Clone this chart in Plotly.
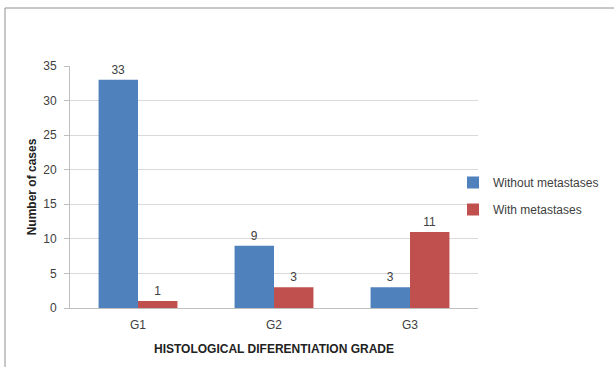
import plotly.graph_objects as go

categories = ["G1", "G2", "G3"]
without_met = [33, 9, 3]
with_met = [1, 3, 11]
series_names = ["Without metastases", "With metastases"]
y_ticks = [0, 5, 10, 15, 20, 25, 30, 35]

L, R, T, B = 70, 136, 66, 59
W, H = 614, 367
pw, ph = W - L - R, H - T - B

def px(x):
    return (x - L) / pw

def py(y):
    return (H - B - y) / ph

font = "Liberation Sans, Arial, sans-serif"

fig = go.Figure()
fig.add_trace(go.Bar(x=categories, y=without_met, name=series_names[0],
                     marker=dict(color="#4F81BD", line=dict(width=0)),
                     text=without_met, textposition="outside", cliponaxis=False,
                     textfont=dict(size=12, color="#404040"), legendgroup="a"))
fig.add_trace(go.Bar(x=categories, y=with_met, name=series_names[1],
                     marker=dict(color="#C0504D", line=dict(width=0)),
                     text=with_met, textposition="outside", cliponaxis=False,
                     textfont=dict(size=12, color="#404040"), legendgroup="b"))

fig.update_layout(
    width=W, height=H,
    margin=dict(l=L, r=R, t=T, b=B, autoexpand=False),
    paper_bgcolor="white", plot_bgcolor="white",
    barmode="group", bargap=0.42, bargroupgap=0,
    font=dict(family=font, size=12, color="#404040"),
    legend=dict(x=px(453), y=py(196), xanchor="left", yanchor="middle",
                font=dict(size=12, color="#404040"), tracegroupgap=8,
                traceorder="grouped", bgcolor="rgba(0,0,0,0)"),
    xaxis=dict(showline=True, linecolor="#BFBFBF", linewidth=1,
               ticks="", ticklabelstandoff=6,
               tickfont=dict(size=12, color="#404040"),
               title=dict(text="<b>HISTOLOGICAL DIFERENTIATION GRADE</b>",
                          font=dict(size=12, color="#222222"), standoff=13)),
    yaxis=dict(range=[0, 35], tickvals=y_ticks, showgrid=True,
               gridcolor="#D9D9D9", gridwidth=1, showline=True,
               linecolor="#BFBFBF", linewidth=1, ticks="outside",
               ticklen=5, tickcolor="#BFBFBF", zeroline=False,
               ticklabelstandoff=5,
               tickfont=dict(size=12, color="#404040"),
               title=dict(text="<b>Number of cases</b>",
                          font=dict(size=12, color="#222222"), standoff=4)),
    shapes=[
        dict(type="line", xref="paper", yref="paper",
             x0=px(5), x1=px(614), y0=py(8), y1=py(8),
             line=dict(color="#909090", width=1)),
        dict(type="line", xref="paper", yref="paper",
             x0=px(5), x1=px(5), y0=py(8), y1=py(367),
             line=dict(color="#909090", width=1)),
    ],
)

fig.write_html("out.html", config={"displayModeBar": False},
               post_script="document.body.style.margin='0px';")
